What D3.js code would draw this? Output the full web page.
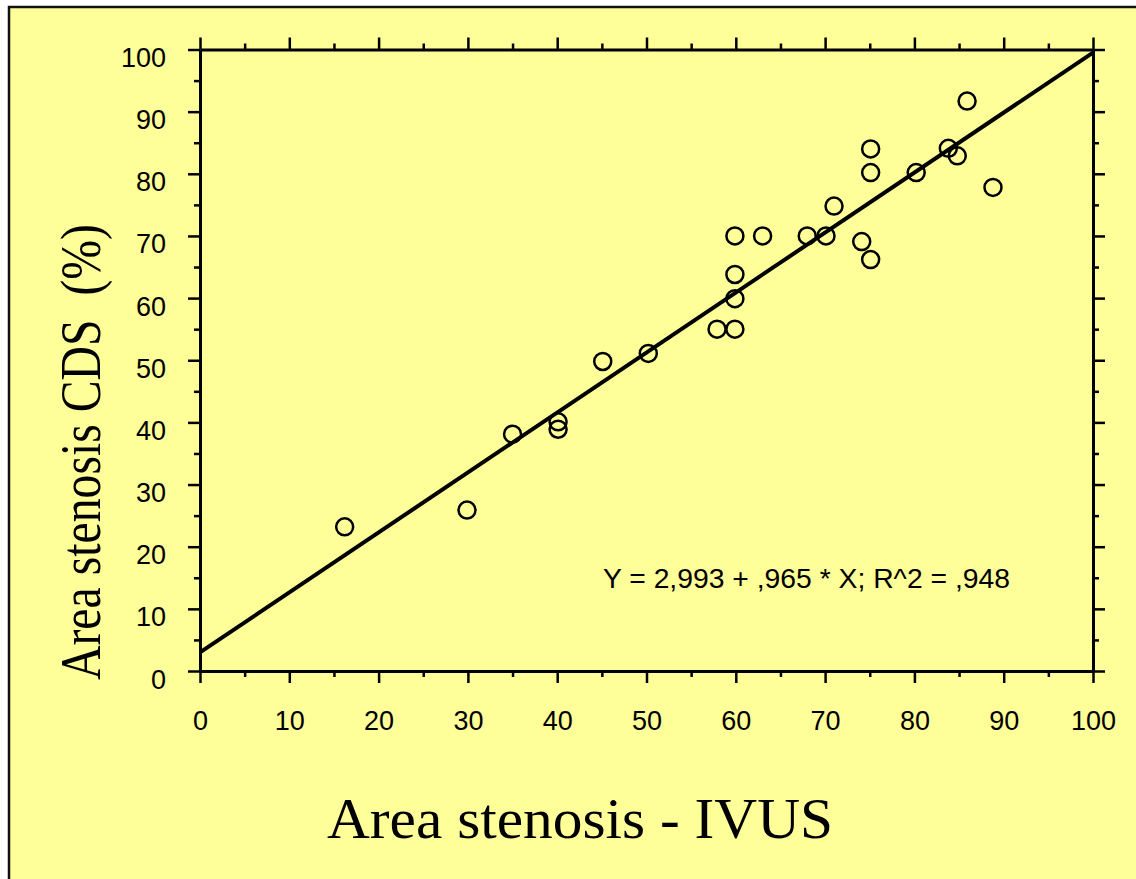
<!DOCTYPE html>
<html>
<head>
<meta charset="utf-8">
<script src="https://cdn.jsdelivr.net/npm/d3@7"></script>
<style>
    body { margin: 0; background: #ffffff; }
    svg { display: block; }
</style>
</head>
<body>
<svg id="drawing_region"></svg>
<script>
// Area stenosis measured by IVUS (x) and CDS (y), in %
const ivus = [16.2, 29.9, 35.0, 40.1, 40.1, 45.1, 50.2, 57.9, 59.9, 59.9, 59.9, 59.9,
              63.0, 68.0, 70.1, 71.0, 74.1, 75.1, 75.1, 75.1, 80.2, 83.8, 84.8, 88.8, 85.9];
const cds  = [23.2, 25.9, 38.1, 40.1, 38.9, 49.8, 51.1, 55.0, 55.0, 59.9, 63.8, 70.0,
              70.0, 70.0, 70.0, 74.8, 69.1, 66.2, 80.2, 84.0, 80.2, 84.1, 82.9, 77.8, 91.7];
const intercept = 2.993;
const slope = 0.965;
const equation = "Y = 2,993 + ,965 * X; R^2 = ,948";
const major_ticks = [0, 10, 20, 30, 40, 50, 60, 70, 80, 90, 100];
const minor_ticks = [5, 15, 25, 35, 45, 55, 65, 75, 85, 95];
const x_title = "Area stenosis - IVUS";
const y_title = "Area stenosis CDS\u00a0\u00a0(%)";

const width = 1136;
const height = 879;
const plot = {left: 200, right: 1093, top: 49.5, bottom: 671};

const svg = d3.select('#drawing_region')
    .attr('width', width)
    .attr('height', height);

// yellow slide background with black frame
svg.append('rect')
    .attr('x', 9).attr('y', 7)
    .attr('width', width + 20).attr('height', height + 20)
    .attr('fill', '#ffff99')
    .attr('stroke', '#111')
    .attr('stroke-width', 2.5);

const xscale = d3.scaleLinear().domain([0, 100]).range([plot.left, plot.right]);
const yscale = d3.scaleLinear().domain([0, 100]).range([plot.bottom, plot.top]);

function styleAxis(g, labels) {
    g.select('.domain').attr('stroke', '#000').attr('stroke-width', 3);
    g.selectAll('.tick line').attr('stroke', '#000').attr('stroke-width', 2.5);
    g.selectAll('.tick text')
        .attr('font-family', '"Liberation Sans", Arial, sans-serif')
        .attr('font-size', 27)
        .attr('fill', '#000');
    if (!labels) g.selectAll('.tick text').remove();
}

function minor(axis, transform) {
    const g = svg.append('g')
        .attr('transform', transform)
        .call(axis.tickValues(minor_ticks).tickSize(6).tickSizeOuter(0).tickFormat(''));
    g.select('.domain').remove();
    g.selectAll('.tick line').attr('stroke', '#000').attr('stroke-width', 2.5);
}

// minor ticks on all four sides
minor(d3.axisBottom(xscale), `translate(0, ${plot.bottom})`);
minor(d3.axisTop(xscale), `translate(0, ${plot.top})`);
minor(d3.axisLeft(yscale), `translate(${plot.left}, 0)`);
minor(d3.axisRight(yscale), `translate(${plot.right}, 0)`);

// major axes
const xaxis_group = svg.append('g')
    .attr('transform', `translate(0, ${plot.bottom})`)
    .call(d3.axisBottom(xscale).tickValues(major_ticks).tickSize(12).tickSizeOuter(0));
styleAxis(xaxis_group, true);
xaxis_group.selectAll('.tick text').attr('y', 59).attr('dy', 0);

svg.append('g')
    .attr('transform', `translate(0, ${plot.top})`)
    .call(d3.axisTop(xscale).tickValues(major_ticks).tickSize(12).tickSizeOuter(0))
    .call(g => styleAxis(g, false));

const yaxis_group = svg.append('g')
    .attr('transform', `translate(${plot.left}, 0)`)
    .call(d3.axisLeft(yscale).tickValues(major_ticks).tickSize(12).tickSizeOuter(0).tickPadding(22));
styleAxis(yaxis_group, true);
yaxis_group.selectAll('.tick text').attr('dy', 17);

svg.append('g')
    .attr('transform', `translate(${plot.right}, 0)`)
    .call(d3.axisRight(yscale).tickValues(major_ticks).tickSize(12).tickSizeOuter(0))
    .call(g => styleAxis(g, false));

// regression line
const line = d3.line()
    .x(d => xscale(d))
    .y(d => yscale(intercept + slope * d));

svg.append('path')
    .attr('d', line([0, 100]))
    .attr('fill', 'none')
    .attr('stroke', '#000')
    .attr('stroke-width', 4);

// data points
svg.append('g').selectAll('circle')
    .data(ivus.map((v, i) => ({x: v, y: cds[i]})))
    .enter().append('circle')
    .attr('cx', d => xscale(d.x))
    .attr('cy', d => yscale(d.y))
    .attr('r', 8.5)
    .attr('fill', 'none')
    .attr('stroke', '#000')
    .attr('stroke-width', 2.5);

// equation
svg.append('text')
    .attr('x', 603).attr('y', 588)
    .attr('font-family', '"Liberation Sans", Arial, sans-serif')
    .attr('font-size', 28)
    .attr('textLength', 407)
    .attr('lengthAdjust', 'spacingAndGlyphs')
    .text(equation);

// axis titles
svg.append('text')
    .attr('x', 580).attr('y', 838)
    .attr('text-anchor', 'middle')
    .attr('font-family', '"Liberation Serif", "Times New Roman", serif')
    .attr('font-size', 58)
    .attr('textLength', 506)
    .attr('lengthAdjust', 'spacingAndGlyphs')
    .text(x_title);

svg.append('text')
    .attr('transform', 'translate(100, 452) rotate(-90)')
    .attr('text-anchor', 'middle')
    .attr('font-family', '"Liberation Serif", "Times New Roman", serif')
    .attr('font-size', 56)
    .attr('textLength', 456)
    .attr('lengthAdjust', 'spacingAndGlyphs')
    .text(y_title);
</script>
</body>
</html>
